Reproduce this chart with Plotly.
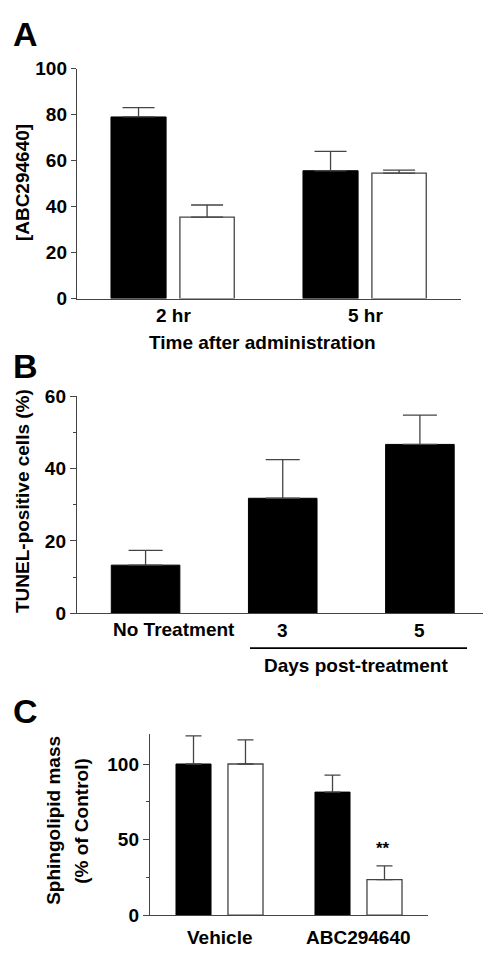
import plotly.graph_objects as go

W, H = 483, 959

# ---------------- data ----------------
a_categories = ["2 hr", "5 hr"]
a_black = [79.0, 55.6]
a_black_err = [4.1, 8.4]
a_white = [35.4, 54.6]
a_white_err = [5.3, 1.3]
a_yticks = [0, 20, 40, 60, 80, 100]

b_categories = ["No Treatment", "3", "5"]
b_values = [13.3, 31.8, 46.7]
b_err = [4.1, 10.7, 8.1]
b_yticks = [0, 20, 40, 60]

c_categories = ["Vehicle", "ABC294640"]
c_black = [100.0, 81.4]
c_black_err = [18.6, 11.2]
c_white = [100.0, 23.4]
c_white_err = [16.0, 9.1]
c_yticks = [0, 50, 100]

# ---------------- helpers ----------------
def px_x(p):
    return p / W

def px_y(p):
    return 1 - p / H

FONT = "Liberation Sans, Arial, sans-serif"
AX = "#444444"
FS = 19
tickfont = dict(family=FONT, size=FS, color="black", weight="bold")

fig = go.Figure()

def err(arr, cap):
    return dict(type="data", symmetric=False, array=arr, arrayminus=[0] * len(arr),
                color="#444444", thickness=1.3, width=cap)

# Panel A
fig.add_trace(go.Bar(x=a_categories, y=a_black, width=0.287, offset=-0.323,
                     marker=dict(color="black", line=dict(color="black", width=1)),
                     error_y=err(a_black_err, 16), xaxis="x", yaxis="y", showlegend=False))
fig.add_trace(go.Bar(x=a_categories, y=a_white, width=0.283, offset=0.036,
                     marker=dict(color="white", line=dict(color="#444444", width=1.3)),
                     error_y=err(a_white_err, 16), xaxis="x", yaxis="y", showlegend=False))

# Panel B
fig.add_trace(go.Bar(x=b_categories, y=b_values, width=0.5,
                     marker=dict(color="black", line=dict(color="black", width=1)),
                     error_y=err(b_err, 17), xaxis="x2", yaxis="y2", showlegend=False))

# Panel C
fig.add_trace(go.Bar(x=c_categories, y=c_black, width=0.252, offset=-0.313,
                     marker=dict(color="black", line=dict(color="black", width=1)),
                     error_y=err(c_black_err, 8), xaxis="x3", yaxis="y3", showlegend=False))
fig.add_trace(go.Bar(x=c_categories, y=c_white, width=0.252, offset=0.061,
                     marker=dict(color="white", line=dict(color="#444444", width=1.3)),
                     error_y=err(c_white_err, 8), xaxis="x3", yaxis="y3", showlegend=False))

axis_common = dict(showline=True, linecolor=AX, linewidth=1.4, showgrid=False,
                   zeroline=False, tickfont=tickfont)

fig.update_layout(
    width=W, height=H,
    margin=dict(l=0, r=0, t=0, b=0),
    paper_bgcolor="white", plot_bgcolor="white",
    barmode="overlay",
    xaxis=dict(domain=[px_x(77), px_x(461)], anchor="y", type="category",
               range=[-0.5, 1.5], ticks="", showticklabels=False, **axis_common),
    yaxis=dict(domain=[px_y(295), px_y(60)], anchor="x", range=[0, 100],
               tickvals=a_yticks, ticks="outside", ticklen=5, tickcolor=AX,
               tickwidth=1.3, **axis_common),
    xaxis2=dict(domain=[px_x(77), 1.0], anchor="y2", type="category",
                range=[-0.5, 2.46], ticks="", showticklabels=False, **axis_common),
    yaxis2=dict(domain=[px_y(616.7), px_y(395)], anchor="x2", range=[0, 60],
                tickvals=b_yticks, ticks="outside", ticklen=6, tickcolor=AX,
                tickwidth=1.3,
                minor=dict(tickvals=[10, 30, 50], ticks="outside", ticklen=3,
                           tickcolor=AX, tickwidth=1.3),
                **axis_common),
    xaxis3=dict(domain=[px_x(150), px_x(428)], anchor="y3", type="category",
                range=[-0.5, 1.5], ticks="", showticklabels=False, **axis_common),
    yaxis3=dict(domain=[px_y(925.3), px_y(740)], anchor="x3", range=[0, 120],
                tickvals=c_yticks, ticks="outside", ticklen=6, tickcolor=AX,
                tickwidth=1.3,
                minor=dict(tickvals=[25, 75], ticks="outside", ticklen=3,
                           tickcolor=AX, tickwidth=1.3),
                **axis_common),
)

txt = dict(family=FONT, size=FS, color="black", weight="bold")
big = dict(family=FONT, size=34, color="black", weight="bold")

ann = [
    # panel letters
    dict(text="A", x=px_x(11), y=px_y(25), xanchor="left", yanchor="middle", font=big),
    dict(text="B", x=px_x(11), y=px_y(364), xanchor="left", yanchor="middle", font=big),
    dict(text="C", x=px_x(11), y=px_y(717), xanchor="left", yanchor="middle", font=big),
    # axis titles
    dict(text="[ABC294640]", x=px_x(22), y=px_y(177), textangle=-90,
         xanchor="center", yanchor="middle", font=txt),
    dict(text="Time after administration", x=px_x(262), y=px_y(340),
         xanchor="center", yanchor="middle", font=txt),
    dict(text="TUNEL-positive cells (%)", x=px_x(22), y=px_y(502), textangle=-90,
         xanchor="center", yanchor="middle", font=txt),
    dict(text="Days post-treatment", x=px_x(356), y=px_y(670),
         xanchor="center", yanchor="middle", font=txt),
    dict(text="Sphingolipid mass", x=px_x(54), y=px_y(829),
         textangle=-90, xanchor="center", yanchor="middle", font=txt),
    dict(text="(% of Control)", x=px_x(82), y=px_y(829),
         textangle=-90, xanchor="center", yanchor="middle", font=txt),
]
for a in ann:
    a.update(xref="paper", yref="paper", showarrow=False)
    fig.add_annotation(**a)

# Category labels placed under the axes (panel A, B, C)
for i, cat in enumerate(a_categories):
    fig.add_annotation(text=cat, x=i, y=px_y(312), xref="x", yref="paper",
                       xanchor="center", yanchor="middle", showarrow=False, font=txt)

fig.add_annotation(text=b_categories[0], x=0, y=px_y(633), xref="x2", yref="paper",
                   xanchor="left", yanchor="middle", xshift=-35,
                   showarrow=False, font=txt)
for i, cat in enumerate(b_categories[1:], start=1):
    fig.add_annotation(text=cat, x=i, y=px_y(634), xref="x2", yref="paper",
                       xanchor="center", yanchor="middle",
                       showarrow=False, font=txt)

for i, cat in enumerate(c_categories):
    fig.add_annotation(text=cat, x=i, y=px_y(948), xref="x3", yref="paper",
                       xanchor="center", yanchor="middle", showarrow=False, font=txt)

# "**" significance mark
fig.add_annotation(text="**", x=1.176, y=c_white[1] + c_white_err[1], xref="x3", yref="y3",
                   xanchor="center", yanchor="bottom", yshift=6,
                   showarrow=False, font=dict(family=FONT, size=17, color="black", weight="bold"))

# bracket line under "3" and "5"
fig.add_shape(type="line", xref="paper", yref="paper",
              x0=px_x(250), x1=px_x(467), y0=px_y(652.5), y1=px_y(652.5),
              line=dict(color="black", width=1.8))

fig.write_html("out.html")
